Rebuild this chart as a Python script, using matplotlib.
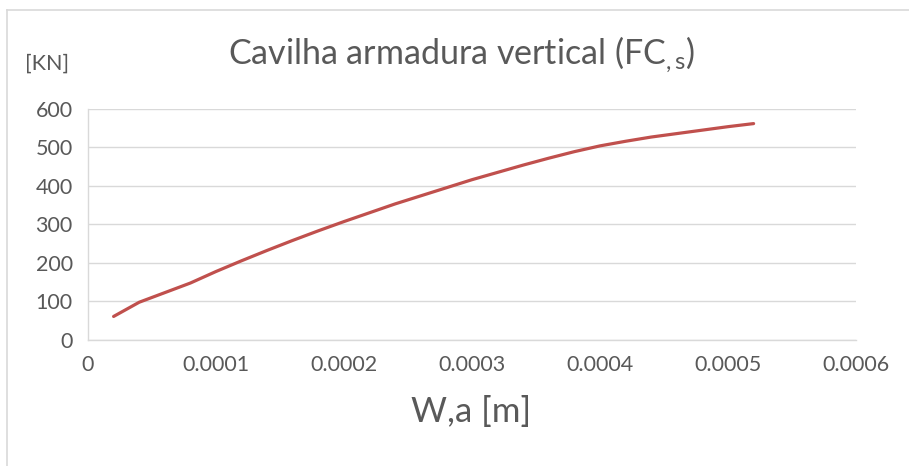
import matplotlib
matplotlib.use("Agg")
import matplotlib.pyplot as plt
from matplotlib.lines import Line2D

# Dowel force of the vertical reinforcement vs. crack opening
w_a = [0.00002, 0.00004, 0.00006, 0.00008, 0.00010, 0.00012, 0.00014,
       0.00016, 0.00018, 0.00020, 0.00022, 0.00024, 0.00026, 0.00028,
       0.00030, 0.00032, 0.00034, 0.00036, 0.00038, 0.00040, 0.00042,
       0.00044, 0.00046, 0.00048, 0.00050, 0.00052]
fc_s = [60, 97, 122, 147, 177, 205, 232, 258, 283, 307, 330, 353, 374,
        395, 416, 435, 454, 472, 489, 504, 516, 527, 536, 545, 554, 562]

x_ticks = [0, 0.0001, 0.0002, 0.0003, 0.0004, 0.0005, 0.0006]
x_tick_labels = ["0", "0.0001", "0.0002", "0.0003", "0.0004", "0.0005", "0.0006"]
y_ticks = [0, 100, 200, 300, 400, 500, 600]

TEXT = "#595959"
GRID = "#d9d9d9"
LINE = "#c0504d"

plt.rcParams["font.family"] = ["Lato", "DejaVu Sans"]
plt.rcParams["mathtext.fontset"] = "custom"
plt.rcParams["mathtext.rm"] = "Lato"
plt.rcParams["mathtext.it"] = "Lato"

W, H = 909, 466
fig = plt.figure(figsize=(W / 100, H / 100), dpi=100)
ax = fig.add_axes([88 / W, 1 - 339.5 / H, (856 - 88) / W, (339.5 - 109) / H])

ax.plot(w_a, fc_s, color=LINE, lw=2.3, solid_capstyle="round",
        solid_joinstyle="round")

ax.set_xlim(0, 0.0006)
ax.set_ylim(0, 600)
ax.set_xticks(x_ticks)
ax.set_xticklabels(x_tick_labels)
ax.set_yticks(y_ticks)
ax.yaxis.grid(True, color=GRID, lw=1)
ax.set_axisbelow(True)
for side in ("top", "right"):
    ax.spines[side].set_visible(False)
for side in ("left", "bottom"):
    ax.spines[side].set_color(GRID)
    ax.spines[side].set_linewidth(1)
ax.tick_params(length=0, colors=TEXT, labelsize=15.5)
ax.tick_params(axis="x", pad=11)
ax.tick_params(axis="y", pad=11)

fig.text(462 / W, 1 - 55 / H, r"Cavilha armadura vertical (FC$_{,s}$)",
         ha="center", va="center", fontsize=24.5, color=TEXT)
fig.text(47 / W, 1 - 64 / H, "[KN]", ha="center", va="center",
         fontsize=15.5, color=TEXT)
fig.text(471 / W, 1 - 412 / H, "W,a [m]", ha="center", va="center",
         fontsize=25, color=TEXT)

# chart frame
fig.add_artist(Line2D([6.5 / W, 6.5 / W], [0, 1 - 10 / H],
                      transform=fig.transFigure, color=GRID, lw=1.2))
fig.add_artist(Line2D([6.5 / W, 1], [1 - 10 / H, 1 - 10 / H],
                      transform=fig.transFigure, color=GRID, lw=1.2))

fig.savefig("out.png", dpi=100, facecolor="white")
